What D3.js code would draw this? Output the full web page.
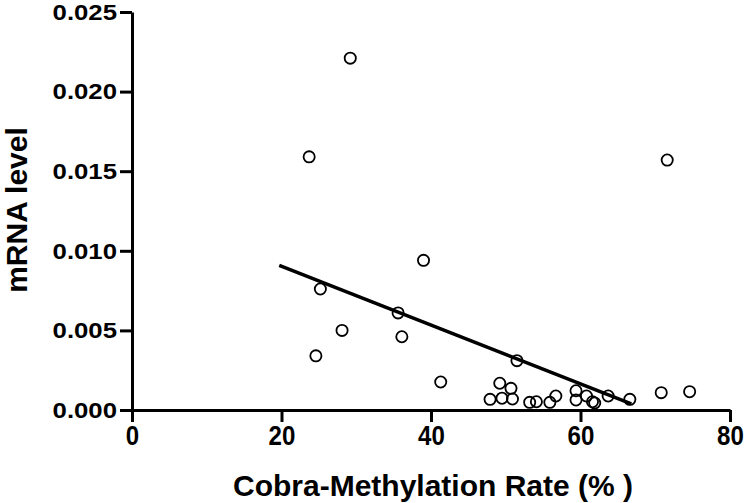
<!DOCTYPE html>
<html><head><meta charset="utf-8">
<script src="https://cdn.jsdelivr.net/npm/d3@7"></script>
<style>body{margin:0;background:#fff}svg{display:block}</style>
</head><body>
<svg id="c" width="746" height="503"></svg>
<script>
// Data
const methylation = [29.2, 23.7, 71.6, 39.0, 25.2, 35.6, 28.1, 36.1, 24.6, 51.5, 41.3, 49.2, 50.7, 47.9, 49.5, 50.9, 53.2, 54.1, 55.9, 56.7, 59.4, 59.4, 60.8, 61.6, 61.9, 63.7, 66.6, 70.8, 74.6];
const mrna = [0.0221, 0.0159, 0.0157, 0.0094, 0.0076, 0.0061, 0.0050, 0.0046, 0.0034, 0.0031, 0.00176, 0.00168, 0.00136, 0.00067, 0.00074, 0.00069, 0.00048, 0.00052, 0.00048, 0.00088, 0.00121, 0.00063, 0.00088, 0.00052, 0.00044, 0.00088, 0.00067, 0.00109, 0.00115];
const fitX = [19.7, 66.8];
const fitY = [0.00908, 0.00038];
const xTicks = [0, 20, 40, 60, 80];
const yTicks = [0, 0.005, 0.010, 0.015, 0.020, 0.025];
const xTitle = "Cobra-Methylation Rate (% )";
const yTitle = "mRNA level";

const svg = d3.select("#c");
const x = d3.scaleLinear().domain([0, 80]).range([132, 730]);
const y = d3.scaleLinear().domain([0, 0.025]).range([410, 12]);
const font = "'Liberation Sans', Arial, sans-serif";

// X axis
const gx = svg.append("g").attr("transform", `translate(0,${y(0)})`)
  .call(d3.axisBottom(x).tickValues(xTicks).tickSize(12).tickSizeOuter(0).tickPadding(3).tickFormat(d3.format("d")));
gx.select(".domain").attr("stroke", "#000").attr("stroke-width", 3);
gx.selectAll(".tick line").attr("stroke", "#000").attr("stroke-width", 3);
gx.selectAll(".tick text").attr("font-family", font).attr("font-weight", "bold")
  .attr("font-size", 28).attr("fill", "#000").attr("x", 0)
  .attr("transform", "scale(0.86,1)");

// Y axis
const ySx = 1.12;
const gy = svg.append("g").attr("transform", `translate(${x(0)},0)`)
  .call(d3.axisLeft(y).tickValues(yTicks).tickSize(12).tickSizeOuter(0).tickPadding(4).tickFormat(d3.format(".3f")));
gy.select(".domain").attr("stroke", "#000").attr("stroke-width", 3);
gy.selectAll(".tick line").attr("stroke", "#000").attr("stroke-width", 3);
gy.selectAll(".tick text").attr("font-family", font).attr("font-weight", "bold")
  .attr("font-size", 23).attr("fill", "#000")
  .attr("x", -15 / ySx).attr("transform", `scale(${ySx},1)`);

// Regression line
svg.append("line")
  .attr("x1", x(fitX[0])).attr("y1", y(fitY[0]))
  .attr("x2", x(fitX[1])).attr("y2", y(fitY[1]))
  .attr("stroke", "#000").attr("stroke-width", 3.5);

// Points
svg.append("g").selectAll("circle").data(methylation.map((m,i)=>[m, mrna[i]]))
  .join("circle")
  .attr("cx", d => x(d[0])).attr("cy", d => y(d[1])).attr("r", 5.6)
  .attr("fill", "none").attr("stroke", "#000").attr("stroke-width", 1.8);

// Titles
svg.append("text").attr("x", 433).attr("y", 496).attr("text-anchor", "middle")
  .attr("font-family", font).attr("font-weight", "bold").attr("font-size", 30)
  .attr("fill", "#000").text(xTitle);
svg.append("text").attr("transform", "translate(27,210) rotate(-90)").attr("text-anchor", "middle")
  .attr("font-family", font).attr("font-weight", "bold").attr("font-size", 30)
  .attr("fill", "#000").text(yTitle);
</script>
</body></html>
